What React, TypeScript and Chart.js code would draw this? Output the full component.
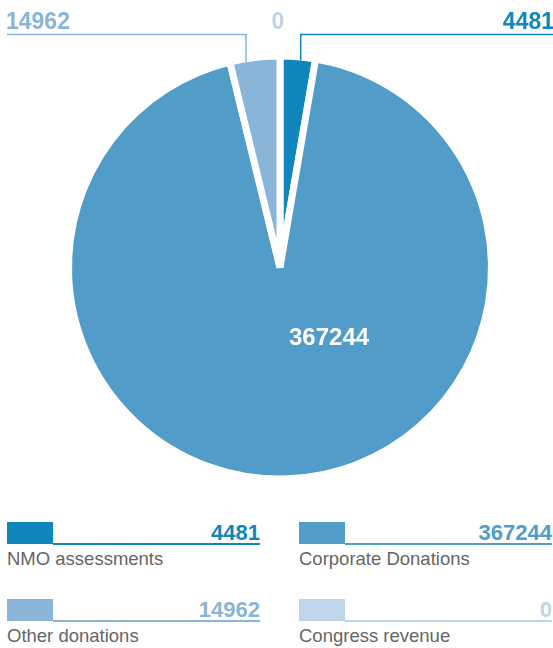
import React, { useEffect, useRef } from "react";
import { Chart, registerables } from "chart.js";

Chart.register(...registerables);

const categories = ["NMO assessments", "Corporate Donations", "Other donations", "Congress revenue"];
const values = [4481, 367244, 14962, 0];
const colors = ["#1186bc", "#529cc9", "#89b5d8", "#bed5eb"];

const FONT = '"Liberation Sans", Arial, Helvetica, sans-serif';
const BORDER = 7;
// Smallest angle a non-zero slice is drawn with (keeps tiny slices visible)
const MIN_SLICE_DEG = 9.7;

const minAnglePlugin = {
  id: "minAngle",
  beforeDatasetsDraw(chart: any) {
    const arcs = chart.getDatasetMeta(0).data as any[];
    if (!arcs.length) return;
    const TAU = Math.PI * 2;
    const total = values.reduce((s, v) => s + v, 0);
    const minA = (MIN_SLICE_DEG * Math.PI) / 180;
    const small = values.map((v) => v > 0 && (v / total) * TAU < minA);
    const nSmall = small.filter(Boolean).length;
    const bigSum = values.reduce((s, v, i) => (small[i] ? s : s + v), 0);
    const rest = TAU - nSmall * minA;
    let a = -Math.PI / 2;
    values.forEach((v, i) => {
      const ang = v <= 0 ? 0 : small[i] ? minA : (v / bigSum) * rest;
      const arc = arcs[i];
      arc.startAngle = a;
      arc.endAngle = a + ang;
      arc.circumference = ang;
      a += ang;
    });
  },
};

const calloutPlugin = {
  id: "callouts",
  afterDatasetsDraw(chart: any) {
    const ctx = chart.ctx as CanvasRenderingContext2D;
    const arcs = chart.getDatasetMeta(0).data as any[];
    ctx.save();

    const big = arcs[1];
    ctx.fillStyle = "#ffffff";
    ctx.font = `bold 24px ${FONT}`;
    ctx.textAlign = "center";
    ctx.textBaseline = "alphabetic";
    ctx.fillText(String(values[1]), big.x + big.outerRadius * 0.232, big.y + big.outerRadius * 0.366);

    const lineY = 34.5;
    const textY = 29;
    const edgeY = (a: any, vx: number) => {
      const rv = a.outerRadius - BORDER / 2;
      const dx = vx - a.x;
      return a.y - Math.sqrt(Math.max(rv * rv - dx * dx, 0));
    };
    const midX = (a: any) => {
      const m = (a.startAngle + a.endAngle) / 2;
      return a.x + Math.cos(m) * a.outerRadius;
    };

    ctx.lineWidth = 1.5;
    ctx.font = `bold 23px ${FONT}`;

    // Other donations (left)
    const o = arcs[2];
    const ox = midX(o) - 8.7;
    ctx.strokeStyle = colors[2];
    ctx.beginPath();
    ctx.moveTo(7, lineY);
    ctx.lineTo(ox, lineY);
    ctx.lineTo(ox, edgeY(o, ox));
    ctx.stroke();
    ctx.fillStyle = colors[2];
    ctx.textAlign = "left";
    ctx.fillText(String(values[2]), 6, textY);

    // NMO (right)
    const n = arcs[0];
    const nx = midX(n) + 2.8;
    ctx.strokeStyle = colors[0];
    ctx.beginPath();
    ctx.moveTo(553, lineY);
    ctx.lineTo(nx, lineY);
    ctx.lineTo(nx, edgeY(n, nx));
    ctx.stroke();
    ctx.fillStyle = colors[0];
    ctx.textAlign = "right";
    ctx.fillText(String(values[0]), 554, textY);

    // Congress (zero)
    const c = arcs[3];
    ctx.fillStyle = colors[3];
    ctx.textAlign = "center";
    ctx.fillText(String(values[3]), c.x - 2, textY);

    ctx.restore();
  },
};

function LegendItem({ i, left, top }: { i: number; left: number; top: number }) {
  return (
    <div style={{ position: "absolute", left, top, width: 253, height: 50 }}>
      <div style={{ position: "absolute", left: 0, top: 0, width: 46, height: 22.3, background: colors[i] }} />
      <div style={{ position: "absolute", left: 46, right: 0, top: 20.5, height: 2, background: colors[i] }} />
      <div
        style={{
          position: "absolute",
          right: 0,
          top: 0,
          font: `bold 22px/22px ${FONT}`,
          color: colors[i],
          whiteSpace: "nowrap",
        }}
      >
        {values[i]}
      </div>
      <div
        style={{
          position: "absolute",
          left: 0,
          top: 27.1,
          font: `18.5px/19px ${FONT}`,
          color: "#666666",
          whiteSpace: "nowrap",
        }}
      >
        {categories[i]}
      </div>
    </div>
  );
}

export default function App() {
  const ref = useRef<HTMLCanvasElement | null>(null);

  useEffect(() => {
    if (!ref.current) return;
    const chart = new Chart(ref.current, {
      type: "pie",
      data: {
        labels: categories,
        datasets: [
          {
            data: values,
            backgroundColor: colors,
            borderColor: "#ffffff",
            borderWidth: BORDER,
            borderJoinStyle: "bevel",
          } as any,
        ],
      },
      options: {
        responsive: false,
        animation: false,
        devicePixelRatio: 1,
        layout: { padding: { left: 65, right: 58, top: 52.5, bottom: 17.5 } },
        plugins: {
          legend: { display: false },
          tooltip: { enabled: false },
        },
      },
      plugins: [minAnglePlugin, calloutPlugin],
    });
    return () => chart.destroy();
  }, []);

  return (
    <div style={{ position: "absolute", left: 0, top: 0, width: 553, height: 648, background: "#fff", overflow: "hidden" }}>
      <canvas ref={ref} width={553} height={500} style={{ position: "absolute", left: 0, top: 0, width: 553, height: 500 }} />
      <LegendItem i={0} left={7} top={522} />
      <LegendItem i={1} left={299} top={522} />
      <LegendItem i={2} left={7} top={599} />
      <LegendItem i={3} left={299} top={599} />
    </div>
  );
}
